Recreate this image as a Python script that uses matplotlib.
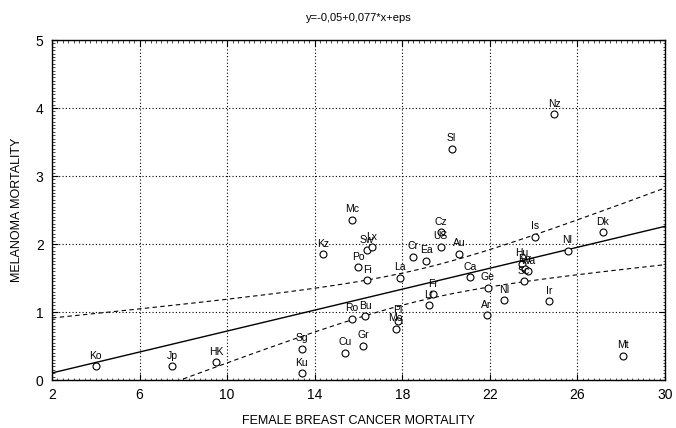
import numpy as np
import matplotlib
matplotlib.use('Agg')
import matplotlib.pyplot as plt
from matplotlib.ticker import MultipleLocator

# ----------------------------------------------------------------------------------------------------------------------
# DATA
# ----------------------------------------------------------------------------------------------------------------------

countries = ['Ko', 'Jp', 'HK', 'Sg', 'Ku', 'Cu', 'Gr', 'Mt', 'Ro', 'Bu', 'Pl', 'Mo', 'Kz', 'Mc', 'Sw', 'Lx',
             'Po', 'Fi', 'La', 'Cr', 'Ea', 'Cz', 'US', 'Au', 'Lt', 'Fr', 'Ca', 'Ge', 'Ar', 'NI', 'Is', 'Hu',
             'En', 'Wa', 'Sc', 'Ir', 'Nl', 'Dk', 'Nz', 'Sl']
breast = [4.0, 7.5, 9.5, 13.4, 13.4, 15.4, 16.2, 28.1, 15.7, 16.3, 17.8, 17.7, 14.4, 15.7, 16.4, 16.6,
          16.0, 16.4, 17.9, 18.5, 19.1, 19.75, 19.75, 20.6, 19.2, 19.4, 21.1, 21.9, 21.85, 22.65, 24.05, 23.45,
          23.6, 23.75, 23.55, 24.7, 25.55, 27.15, 24.95, 20.25]
melanoma = [0.20, 0.20, 0.26, 0.46, 0.10, 0.40, 0.50, 0.36, 0.90, 0.94, 0.87, 0.75, 1.85, 2.36, 1.91, 1.95,
            1.66, 1.47, 1.50, 1.81, 1.75, 2.17, 1.96, 1.86, 1.10, 1.26, 1.51, 1.36, 0.95, 1.17, 2.11, 1.71,
            1.63, 1.60, 1.45, 1.16, 1.90, 2.17, 3.91, 3.40]
intercept = -0.05
slope = 0.077
title = 'y=-0,05+0,077*x+eps'
x_ticks = [2, 6, 10, 14, 18, 22, 26, 30]
y_ticks = [0, 1, 2, 3, 4, 5]

# ----------------------------------------------------------------------------------------------------------------------
# REGRESSION + 95% CONFIDENCE BAND
# ----------------------------------------------------------------------------------------------------------------------

x = np.array(breast)
y = np.array(melanoma)
n = len(x)
xs = np.linspace(x_ticks[0], x_ticks[-1], 200)
fit = intercept + slope * xs
resid = y - (intercept + slope * x)
s = np.sqrt(np.sum(resid ** 2) / (n - 2))
sxx = np.sum((x - x.mean()) ** 2)
half = 2.024 * s * np.sqrt(1.0 / n + (xs - x.mean()) ** 2 / sxx)

# ----------------------------------------------------------------------------------------------------------------------
# PLOT
# ----------------------------------------------------------------------------------------------------------------------

plt.rcParams['font.family'] = ['Liberation Sans', 'DejaVu Sans']
f = plt.figure(figsize=(6.76, 4.28), dpi=100)
ax = f.add_axes([0.0769, 0.1121, 0.9068, 0.7944])

ax.plot(xs, fit, color='black', linewidth=1.0, zorder=2)
ax.plot(xs, fit + half, color='black', linewidth=0.8, linestyle=(0, (4, 3)), zorder=2)
ax.plot(xs, fit - half, color='black', linewidth=0.8, linestyle=(0, (4, 3)), zorder=2)
ax.plot(x, y, linestyle='none', marker='o', markersize=5, markerfacecolor='white',
        markeredgecolor='black', markeredgewidth=0.8, zorder=3)
for name, xi, yi in zip(countries, breast, melanoma):
    ax.annotate(name, (xi, yi), xytext=(0, 4), textcoords='offset points', ha='center', va='bottom',
                fontsize=7.5, zorder=4)

ax.set_xlim([x_ticks[0], x_ticks[-1]])
ax.set_ylim([y_ticks[0], y_ticks[-1]])
ax.set_xticks(x_ticks)
ax.set_yticks(y_ticks)
ax.xaxis.set_minor_locator(MultipleLocator(0.25))
ax.yaxis.set_minor_locator(MultipleLocator(0.05))
ax.tick_params(which='major', direction='in', length=4, width=0.8, top=True, right=True, labelsize=10, pad=6)
ax.tick_params(which='minor', direction='in', length=1.8, width=0.5, top=True, right=True)
ax.grid(True, which='major', color='black', linestyle=(0, (1, 2)), linewidth=0.8)
for sp in ax.spines.values():
    sp.set_linewidth(1.0)

ax.set_xlabel('FEMALE BREAST CANCER MORTALITY', fontsize=9, labelpad=9)
ax.set_ylabel('MELANOMA MORTALITY', fontsize=9, labelpad=9)
ax.set_title(title, fontsize=8, pad=14)

plt.savefig('out.png', dpi=100)
